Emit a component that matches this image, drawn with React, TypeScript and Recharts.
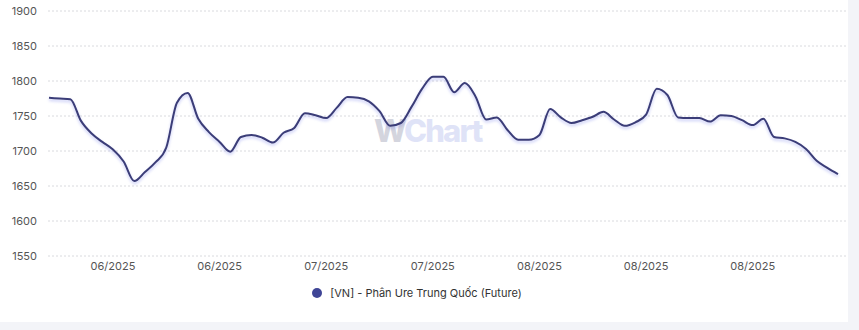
import { CartesianGrid, Legend, Line, LineChart, XAxis, YAxis } from "recharts";

// giá đóng cửa theo phiên
const prices = [
  1776, 1775, 1774, 1743, 1725, 1713, 1702, 1685, 1657, 1670,
  1684, 1705, 1769, 1783, 1746, 1727, 1713, 1699, 1720, 1723,
  1719, 1712, 1726, 1733, 1754, 1751, 1747, 1762, 1777, 1776,
  1771, 1757, 1736, 1740, 1763, 1789, 1806, 1806, 1784, 1797,
  1778, 1745, 1748, 1730, 1716, 1716, 1723, 1760, 1748, 1740,
  1744, 1749, 1756, 1745, 1736, 1741, 1752, 1789, 1780, 1748,
  1747, 1747, 1742, 1751, 1750, 1744, 1737, 1746, 1720, 1718,
  1713, 1703, 1686, 1676, 1667,
];

const tickIndex = [6, 16, 26, 36, 46, 56, 66];
const tickLabels = ["06/2025", "06/2025", "07/2025", "07/2025", "08/2025", "08/2025", "08/2025"];
const yTicks = [1550, 1600, 1650, 1700, 1750, 1800, 1850, 1900];
const seriesName = "[VN] - Phân Ure Trung Quốc (Future)";

const data = prices.map((v, i) => ({ i, v }));

const FONT = "Inter, 'Noto Sans', sans-serif";

function LegendItem() {
  return (
    <div style={{ display: "flex", justifyContent: "center", alignItems: "center", fontFamily: FONT, fontSize: 11, color: "#333" }}>
      <span style={{ width: 10, height: 10, borderRadius: 5, background: "#3f4596", marginRight: 8, marginLeft: -12 }} />
      {seriesName}
    </div>
  );
}

export default function App() {
  return (
    <div style={{ position: "relative", width: 859, height: 330, background: "#f3f4f8", fontFamily: FONT }}>
      <style>{`body{margin:0}`}</style>
      <div style={{ position: "absolute", left: 0, top: 0, width: 848, height: 322, background: "#fff" }}>
        <div
          style={{
            position: "absolute",
            left: 374,
            top: 112,
            fontSize: 31,
            fontWeight: 800,
            letterSpacing: -1.8,
            pointerEvents: "none",
          }}
        >
          <span style={{ color: "#d4d5de" }}>W</span>
          <span style={{ color: "#dfe3f7" }}>Chart</span>
        </div>
        <LineChart width={848} height={322} data={data} margin={{ top: 11, right: 2, bottom: 16, left: 0 }}>
          <CartesianGrid vertical={false} stroke="#d9dade" strokeDasharray="2 2" />
          <XAxis
            dataKey="i"
            type="number"
            domain={[0, 74]}
            ticks={tickIndex}
            tickFormatter={(v) => tickLabels[tickIndex.indexOf(v)] ?? ""}
            axisLine={false}
            tickLine={false}
            tickMargin={0}
            height={30}
            padding={{ left: 1, right: 8 }}
            tick={{ fontSize: 11, fill: "#555" }}
          />
          <YAxis
            domain={[1550, 1900]}
            ticks={yTicks}
            axisLine={false}
            tickLine={false}
            tickMargin={5}
            width={48}
            tick={{ fontSize: 11, fill: "#555" }}
          />
          <Legend verticalAlign="bottom" height={20} content={() => <LegendItem />} />
          <Line
            dataKey="v"
            name={seriesName}
            type="monotone"
            stroke="#3b3d78"
            strokeWidth={2}
            dot={false}
            isAnimationActive={false}
            style={{ filter: "drop-shadow(0px 2px 1.5px rgba(90,100,230,0.35))" }}
          />
        </LineChart>
      </div>
    </div>
  );
}
